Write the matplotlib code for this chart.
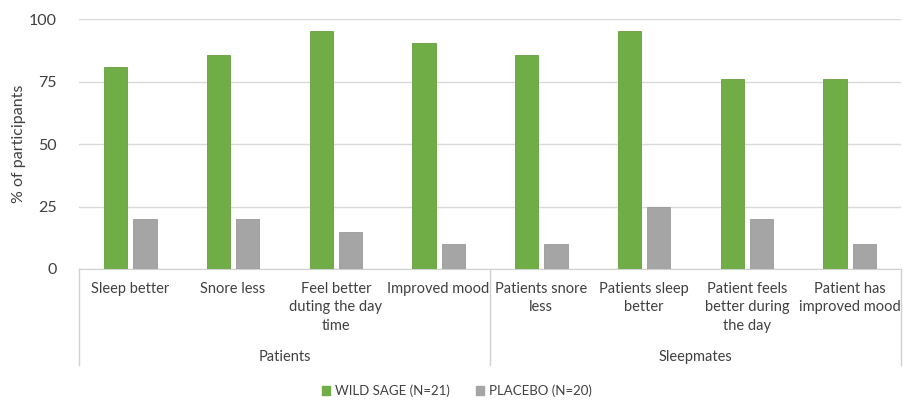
import matplotlib
matplotlib.use("Agg")
import matplotlib.pyplot as plt
import numpy as np
from matplotlib.patches import Rectangle

plt.rcParams["font.family"] = ["Lato", "DejaVu Sans"]

categories = [
    "Sleep better", "Snore less", "Feel better\nduting the day\ntime", "Improved mood",
    "Patients snore\nless", "Patients sleep\nbetter", "Patient feels\nbetter during\nthe day",
    "Patient has\nimproved mood",
]
groups = ["Patients", "Sleepmates"]
group_sizes = [4, 4]
wild_sage = [81.0, 85.7, 95.2, 90.5, 85.7, 95.2, 76.2, 76.2]
placebo = [20, 20, 15, 10, 10, 25, 20, 10]
yticks = [0, 25, 50, 75, 100]

GREEN, GREY = "#70ad47", "#a5a5a5"
TXT = "#404040"

W, H = 904, 403
fig = plt.figure(figsize=(W / 100, H / 100), dpi=100)
x0, x1, ytop, ybot = 79, 901, 19, 269
ax = fig.add_axes([x0 / W, (H - ybot) / H, (x1 - x0) / W, (ybot - ytop) / H])

x = np.arange(len(categories))
bw, off = 0.225, 0.142
ax.bar(x - off, wild_sage, bw, color=GREEN, edgecolor="#64a03e", lw=0.6, zorder=3)
ax.bar(x + off, placebo, bw, color=GREY, edgecolor="#999999", lw=0.6, zorder=3)

ax.set_xlim(-0.5, len(categories) - 0.5)
ax.set_ylim(0, 100)
ax.set_yticks(yticks)
ax.tick_params(axis="y", length=0, labelsize=11.5, labelcolor=TXT, pad=16)
ax.set_xticks([])
ax.grid(axis="y", color="#d9d9d9", lw=1.0, zorder=0)
for s in ["top", "right", "left"]:
    ax.spines[s].set_visible(False)
ax.spines["bottom"].set_color("#d0d0d0")
ax.set_ylabel("% of participants", fontsize=11.5, color=TXT, labelpad=2)

# multi-level category axis below the plot
px = (ybot - ytop)  # axes height in px
def ax_y(pix_below):
    return -pix_below / px

trans = ax.get_xaxis_transform()
bounds = np.cumsum([0] + group_sizes) - 0.5
for b in bounds:
    ax.plot([b, b], [0, ax_y(96)], transform=trans, color="#d0d0d0", lw=1.0, clip_on=False)
for xi, lab in zip(x, categories):
    ax.text(xi, ax_y(13), lab, transform=trans, ha="center", va="top",
            fontsize=10.5, color=TXT, linespacing=1.4)
start = 0
for g, n in zip(groups, group_sizes):
    ax.text(start + (n - 1) / 2, ax_y(88), g, transform=trans, ha="center", va="center",
            fontsize=10.5, color=TXT)
    start += n

# legend
handles = [Rectangle((0, 0), 1, 1, color=GREEN), Rectangle((0, 0), 1, 1, color=GREY)]
fig.legend(handles, ["WILD SAGE (N=21)", "PLACEBO (N=20)"], loc="center",
           bbox_to_anchor=(457 / W, 1 - 391 / H), ncol=2, frameon=False,
           fontsize=9.5, labelcolor=TXT, handlelength=0.6, handleheight=0.6,
           handletextpad=0.4, columnspacing=2.0)

fig.savefig("out.png", dpi=100)
